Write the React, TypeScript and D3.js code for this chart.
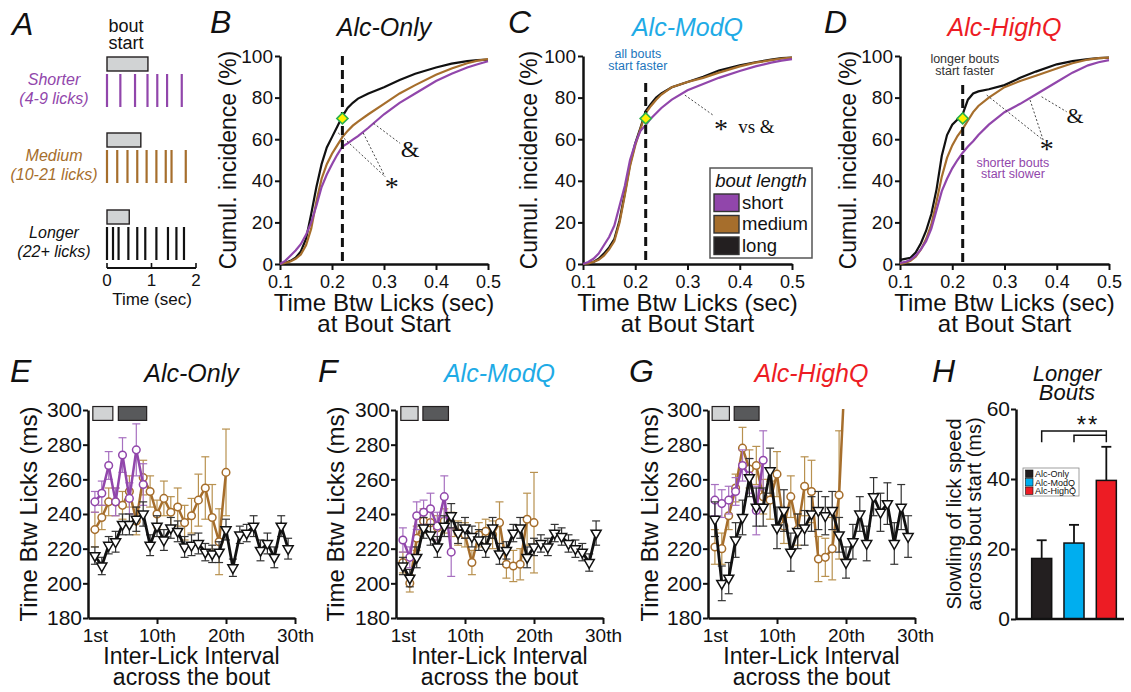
import { useEffect, useRef } from "react";
import * as d3 from "d3";

const FONT = "'Liberation Sans', Arial, Helvetica, sans-serif";
const SERIF = "'Liberation Serif', 'Times New Roman', serif";
const W = 1131;
const H = 692;

const PURPLE = "#9146ab";
const BROWN = "#a66e2c";
const BLACK = "#111111";
const CYAN = "#1fabe6";
const RED = "#ed1c24";

// ---- panel A: example bouts ----
const boutNames = ["Shorter", "Medium", "Longer"];
const boutRanges = ["(4-9 licks)", "(10-21 licks)", "(22+ licks)"];
const boutStartEnd = [0.92, 0.76, 0.5];
const licksShorter = [0, 0.3, 0.63, 0.91, 1.13, 1.35, 1.68];
const licksMedium = [0, 0.23, 0.46, 0.68, 0.89, 1.11, 1.32, 1.45, 1.77];
const licksLonger = [0, 0.135, 0.26, 0.48, 0.68, 0.86, 1.11, 1.37, 1.56, 1.73];
const timeTicks = [0, 1, 2];

// ---- panels B-D: cumulative incidence ----
const cdfX = [0.1, 0.11, 0.12, 0.13, 0.14, 0.15, 0.16, 0.17, 0.18, 0.19, 0.2, 0.21, 0.22, 0.23, 0.24, 0.25, 0.27, 0.3, 0.33, 0.36, 0.4, 0.43, 0.46, 0.48, 0.5];
const cdfTicksX = [0.1, 0.2, 0.3, 0.4, 0.5];
const cdfTicksY = [0, 20, 40, 60, 80, 100];

const cdfOnlyLong = [0, 0.5, 1.5, 3, 6, 12, 24, 37, 48, 56, 61, 66, 71, 75, 77.5, 79.5, 82, 85, 88.5, 91.5, 94.5, 96.3, 97.5, 98, 98.3];
const cdfOnlyMedium = [0, 0.5, 1.2, 2.5, 4.5, 9, 17, 30, 41, 48, 53, 57, 61, 64, 66.5, 68.5, 72, 77, 82, 86, 91, 94, 96.5, 97.8, 98.5];
const cdfOnlyShort = [0, 1.5, 4, 6.5, 9.5, 14, 20, 28, 37, 43, 48, 52.5, 56.5, 58, 59.8, 61.5, 65.5, 72, 77.5, 82, 88, 91.5, 94.5, 96, 97.5];

const cdfModLong = [0, 0.3, 1, 2.5, 5, 8, 12, 21, 34, 48, 58, 65.5, 73.5, 77, 80, 82, 85, 87.5, 90, 93, 95.5, 97, 98.3, 99, 99.2];
const cdfModMedium = [0, 0.3, 1, 2, 4, 7, 11, 20, 33, 47, 57, 65, 72.5, 76, 79, 81.5, 85, 87.5, 89.5, 92, 95, 96.8, 98, 98.8, 99.2];
const cdfModShort = [0, 1, 2.5, 5, 9, 13, 18.5, 28, 37.5, 50, 58, 64, 66.8, 70, 72.5, 75, 79, 83.5, 86.5, 89.5, 92.8, 95, 96.8, 97.8, 98.5];

const cdfHighLong = [2, 2.5, 3, 5.5, 10, 16, 24, 36, 52, 62, 67, 69.5, 72, 79, 82, 83, 84, 86, 89.5, 92.5, 96, 97.5, 98.5, 99, 99.2];
const cdfHighMedium = [0, 0.5, 1.5, 3.5, 7, 12, 19, 30, 42, 51, 57, 61.5, 65, 69, 73, 76, 80, 85, 88, 90.5, 94, 96.5, 98.3, 99, 99.2];
const cdfHighShort = [0.5, 1, 2, 4, 7, 11, 17, 26, 35, 41, 46, 50, 53.5, 56.5, 59, 62, 67, 73, 77, 81.5, 87.5, 92, 95.5, 97, 98];

const legendLabels = ["short", "medium", "long"];

// ---- panels E-G: inter-lick interval across the bout ----
const iliTicks = [1, 10, 20, 30];
const iliTickLabels = ["1st", "10th", "20th", "30th"];
const iliTicksY = [180, 200, 220, 240, 260, 280, 300];

const iliOnlyShort = [247, 252, 268, 247, 274, 249, 277, 257];
const iliOnlyShortErr = [6, 7, 8, 8, 10, 9, 15, 12];
const iliOnlyMedium = [231, 238, 247, 247, 245, 253, 236, 261, 253, 240, 249, 241, 244, 235, 239, 248, 255, 238, 224, 264];
const iliOnlyMediumErr = [10, 7, 8, 8, 8, 9, 8, 10, 9, 8, 10, 9, 11, 10, 10, 15, 18, 19, 19, 25];
const iliOnlyLong = [216, 210, 222, 224, 234, 234, 237, 240, 222, 233, 225, 232, 230, 221, 222, 223, 218, 217, 218, 231, 209, 228, 229, 233, 219, 223, 215, 233, 220];
const iliOnlyLongErr = [5, 5, 5, 6, 6, 6, 7, 7, 6, 6, 6, 6, 6, 6, 6, 6, 5, 5, 6, 6, 5, 5, 5, 6, 6, 6, 6, 6, 6];

const iliModShort = [225, 215, 239, 241, 243, 233, 250, 218];
const iliModShortErr = [7, 6, 8, 7, 9, 8, 12, 14];
const iliModMedium = [212, 200, 226, 236, 235, 232, 236, 234, 229, 228, 212, 228, 230, 228, 235, 211, 210, 211, 237, 235];
const iliModMediumErr = [6, 5, 7, 7, 7, 7, 7, 7, 7, 7, 7, 7, 7, 8, 12, 8, 9, 9, 15, 29];
const iliModLong = [210, 203, 215, 232, 228, 221, 233, 239, 229, 232, 227, 225, 221, 232, 217, 219, 229, 232, 215, 221, 223, 221, 229, 227, 223, 220, 218, 212, 229];
const iliModLongErr = [5, 5, 6, 6, 6, 6, 6, 7, 6, 6, 6, 6, 6, 6, 6, 5, 5, 6, 6, 5, 5, 5, 5, 5, 5, 5, 5, 5, 7];

const iliHighShort = [248, 246, 248, 253, 268, 262, 242, 271];
const iliHighShortErr = [9, 8, 8, 8, 9, 10, 14, 17];
const iliHighMedium = [221, 220, 239, 255, 278, 266, 268, 250, 248, 263, 233, 250, 231, 256, 253, 214, 215, 220, 251, 335];
const iliHighMediumErr = [10, 9, 8, 8, 12, 11, 11, 10, 11, 13, 10, 12, 9, 17, 18, 13, 11, 18, 37, 0];
const iliHighLong = [237, 200, 203, 225, 238, 261, 244, 244, 265, 232, 242, 218, 230, 232, 240, 242, 239, 242, 228, 212, 224, 240, 223, 250, 241, 246, 223, 244, 227];
const iliHighLongErr = [10, 10, 9, 10, 10, 11, 11, 11, 13, 12, 12, 11, 10, 10, 10, 11, 11, 11, 10, 9, 10, 10, 10, 11, 11, 12, 12, 13, 12];

// ---- panel H ----
const barGroups = ["Alc-Only", "Alc-ModQ", "Alc-HighQ"];
const barMeans = [17.3, 21.7, 39.6];
const barSems = [5.2, 5.2, 9.6];
const barColors = ["#231f20", "#00aeef", RED];
const barTicks = [0, 20, 40, 60];

function addText(g: any, x: number, y: number, s: string, o: any = {}) {
  const t = g
    .append("text")
    .attr("x", x)
    .attr("y", y)
    .attr("font-family", o.family || FONT)
    .attr("font-size", o.size || 18)
    .attr("fill", o.color || "#111")
    .attr("text-anchor", o.anchor || "middle")
    .text(s);
  if (o.italic) t.attr("font-style", "italic");
  if (o.rotate) t.attr("transform", `rotate(-90, ${x}, ${y})`);
  return t;
}

function styleAxis(ax: any, size: number) {
  ax.select(".domain").attr("stroke", "#111").attr("stroke-width", 2.5);
  ax.selectAll(".tick line").attr("stroke", "#111").attr("stroke-width", 2);
  ax.selectAll(".tick text").attr("font-family", FONT).attr("font-size", size).attr("fill", "#111");
}

function drawPanelA(svg: any) {
  const g = svg.append("g");
  const t = d3.scaleLinear().domain([0, 2]).range([107, 196]);
  addText(g, 12, 35, "A", { size: 32, italic: true, anchor: "start" });
  addText(g, 126, 32, "bout", { size: 18 });
  addText(g, 126, 49, "start", { size: 18 });
  const rows = [licksShorter, licksMedium, licksLonger];
  const colors = [PURPLE, BROWN, BLACK];
  const tops = [57, 133, 210];
  rows.forEach((licks, i) => {
    const top = tops[i];
    g.append("rect")
      .attr("x", t(0))
      .attr("y", top)
      .attr("width", t(boutStartEnd[i]) - t(0))
      .attr("height", 14)
      .attr("fill", "#d1d3d4")
      .attr("stroke", "#231f20")
      .attr("stroke-width", 1.4);
    g.selectAll(null)
      .data(licks)
      .enter()
      .append("line")
      .attr("x1", (d: number) => t(d))
      .attr("x2", (d: number) => t(d))
      .attr("y1", top + 17)
      .attr("y2", top + 50)
      .attr("stroke", colors[i])
      .attr("stroke-width", 2.2);
    addText(g, 54, top + 28, boutNames[i], { size: 16, italic: true, color: colors[i] });
    addText(g, 54, top + 47, boutRanges[i], { size: 16, italic: true, color: colors[i] });
  });
  g.append("line").attr("x1", t(0)).attr("x2", t(2)).attr("y1", 268).attr("y2", 268).attr("stroke", "#111").attr("stroke-width", 1.8);
  timeTicks.forEach((v) => {
    g.append("line").attr("x1", t(v)).attr("x2", t(v)).attr("y1", 268).attr("y2", 263).attr("stroke", "#111").attr("stroke-width", 1.6);
    addText(g, t(v), 286, String(v), { size: 17 });
  });
  addText(g, 152, 305, "Time (sec)", { size: 17 });
}

const cdfPanels = [
  {
    letter: "B", letterX: 210, left: 280, right: 488, title: "Alc-Only", titleColor: "#111", ylabelX: 236, dashTop: 100,
    series: [cdfOnlyLong, cdfOnlyMedium, cdfOnlyShort],
    dotted: [[0.28, 67.6, 0.331, 58], [0.212, 63, 0.302, 42], [0.26, 63, 0.302, 42]],
    marks: [{ s: "&", x: 0.35, y: 51.6, size: 24 }],
    stars: [{ x: 0.315, y: 38.8 }],
    notes: [] as any[],
  },
  {
    letter: "C", letterX: 508, left: 583, right: 792, title: "Alc-ModQ", titleColor: CYAN, ylabelX: 537, dashTop: 87,
    series: [cdfModLong, cdfModMedium, cdfModShort],
    dotted: [[0.295, 81.2, 0.351, 71.2]],
    marks: [{ s: "vs &", x: 0.397, y: 63.1, size: 19, anchor: "start" }],
    stars: [{ x: 0.364, y: 66.8 }],
    notes: [
      { s: "all bouts", x: 0.205, y: 98.9, color: "#1c75bc" },
      { s: "start faster", x: 0.205, y: 93.3, color: "#1c75bc" },
    ],
    legend: true,
  },
  {
    letter: "D", letterX: 824, left: 900, right: 1109, title: "Alc-HighQ", titleColor: RED, ylabelX: 856, dashTop: 86,
    series: [cdfHighLong, cdfHighMedium, cdfHighShort],
    dotted: [[0.371, 80.4, 0.419, 73.2], [0.266, 81.2, 0.374, 59.6], [0.349, 78.8, 0.374, 59.6]],
    marks: [{ s: "&", x: 0.435, y: 67.9, size: 22 }],
    stars: [{ x: 0.381, y: 57.2 }],
    notes: [
      { s: "longer bouts", x: 0.224, y: 96.5, color: "#333" },
      { s: "start faster", x: 0.224, y: 90.9, color: "#333" },
      { s: "shorter bouts", x: 0.316, y: 46.8, color: PURPLE },
      { s: "start slower", x: 0.316, y: 41.2, color: PURPLE },
    ],
  },
];

function drawCdf(svg: any, p: any) {
  const g = svg.append("g");
  const x = d3.scaleLinear().domain([0.1, 0.5]).range([p.left, p.right]);
  const y = d3.scaleLinear().domain([0, 100]).range([264, 56]);
  const cx = (p.left + p.right) / 2;

  addText(g, p.letterX, 33, p.letter, { size: 32, italic: true, anchor: "start" });
  addText(g, cx, 36, p.title, { size: 25, italic: true, color: p.titleColor });

  const ax = g
    .append("g")
    .attr("transform", "translate(0,264)")
    .call(d3.axisBottom(x).tickValues(cdfTicksX).tickFormat(d3.format(".1f")).tickSize(6).tickSizeOuter(0).tickPadding(5));
  styleAxis(ax, 18);
  const ay = g
    .append("g")
    .attr("transform", `translate(${p.left},0)`)
    .call(d3.axisLeft(y).tickValues(cdfTicksY).tickSize(5).tickSizeOuter(0).tickPadding(2));
  styleAxis(ay, 19);

  addText(g, cx, 311, "Time Btw Licks (sec)", { size: 24 });
  addText(g, cx, 332, "at Bout Start", { size: 24 });
  addText(g, p.ylabelX, 160, "Cumul. incidence (%)", { size: 23, rotate: true });

  const colors = [BLACK, BROWN, PURPLE];
  const line = d3
    .line<number>()
    .x((_d, i) => x(cdfX[i]))
    .y((d) => y(d));
  p.series.forEach((vals: number[], i: number) => {
    g.append("path").datum(vals).attr("fill", "none").attr("stroke", colors[i]).attr("stroke-width", 2.2).attr("d", line);
  });

  g.append("line")
    .attr("x1", x(0.22))
    .attr("x2", x(0.22))
    .attr("y1", y(p.dashTop))
    .attr("y2", y(0))
    .attr("stroke", "#111")
    .attr("stroke-width", 3)
    .attr("stroke-dasharray", "9,5");

  g.append("path")
    .attr("d", d3.symbol().type(d3.symbolSquare).size(62)())
    .attr("transform", `translate(${x(0.22)},${y(70)}) rotate(45)`)
    .attr("fill", "#fff200")
    .attr("stroke", "#2bb24c")
    .attr("stroke-width", 1.6);

  p.dotted.forEach((l: number[]) => {
    g.append("line")
      .attr("x1", x(l[0]))
      .attr("y1", y(l[1]))
      .attr("x2", x(l[2]))
      .attr("y2", y(l[3]))
      .attr("stroke", "#333")
      .attr("stroke-width", 0.9)
      .attr("stroke-dasharray", "2,2");
  });
  p.marks.forEach((m: any) => {
    addText(g, x(m.x), y(m.y), m.s, { size: m.size, family: SERIF, anchor: m.anchor || "middle" });
  });
  p.stars.forEach((s: any) => {
    addText(g, x(s.x), y(s.y) + 0.47 * 28, "*", { size: 28, family: SERIF });
  });
  p.notes.forEach((n: any) => {
    addText(g, x(n.x), y(n.y), n.s, { size: 12.5, color: n.color });
  });

  if (p.legend) {
    const lg = g.append("g");
    lg.append("rect").attr("x", 710).attr("y", 168).attr("width", 102).attr("height", 90).attr("fill", "#fff").attr("stroke", "#555").attr("stroke-width", 1.5);
    addText(lg, 761, 187, "bout length", { size: 18.5, italic: true });
    const legColors = [PURPLE, BROWN, "#231f20"];
    legendLabels.forEach((lab, i) => {
      const top = 194 + i * 21.5;
      lg.append("rect").attr("x", 714).attr("y", top).attr("width", 25).attr("height", 17.5).attr("fill", legColors[i]).attr("stroke", "#333").attr("stroke-width", 1.4);
      addText(lg, 742, top + 14.5, lab, { size: 18.5, anchor: "start" });
    });
  }
}

const iliPanels = [
  {
    letter: "E", letterX: 10, left: 88, title: "Alc-Only", titleColor: "#111", ylabelX: 37,
    boxes: [[0.7, 3.6], [4.4, 8.5]],
    short: iliOnlyShort, shortErr: iliOnlyShortErr, medium: iliOnlyMedium, mediumErr: iliOnlyMediumErr, long: iliOnlyLong, longErr: iliOnlyLongErr,
  },
  {
    letter: "F", letterX: 318, left: 396, title: "Alc-ModQ", titleColor: CYAN, ylabelX: 344,
    boxes: [[0.7, 3.2], [3.9, 7.6]],
    short: iliModShort, shortErr: iliModShortErr, medium: iliModMedium, mediumErr: iliModMediumErr, long: iliModLong, longErr: iliModLongErr,
  },
  {
    letter: "G", letterX: 629, left: 708, title: "Alc-HighQ", titleColor: RED, ylabelX: 658,
    boxes: [[0.6, 3.1], [3.8, 7.4]],
    short: iliHighShort, shortErr: iliHighShortErr, medium: iliHighMedium, mediumErr: iliHighMediumErr, long: iliHighLong, longErr: iliHighLongErr,
  },
];

function drawIli(svg: any, p: any, idx: number) {
  const g = svg.append("g");
  const x = d3.scaleLinear().domain([0, 30]).range([p.left, p.left + 207]);
  const y = d3.scaleLinear().domain([180, 300]).range([618, 410]);
  const cx = p.left + 103.5;

  addText(g, p.letterX, 382, p.letter, { size: 32, italic: true, anchor: "start" });
  addText(g, cx, 382, p.title, { size: 25, italic: true, color: p.titleColor });

  const clipId = `ili-clip-${idx}`;
  svg
    .append("clipPath")
    .attr("id", clipId)
    .append("rect")
    .attr("x", p.left)
    .attr("y", y(300) - 1)
    .attr("width", 215)
    .attr("height", y(180) - y(300) + 1);

  p.boxes.forEach((b: number[], i: number) => {
    g.append("rect")
      .attr("x", x(b[0]))
      .attr("y", y(302))
      .attr("width", x(b[1]) - x(b[0]))
      .attr("height", y(294) - y(302))
      .attr("fill", i === 0 ? "#d1d3d4" : "#58595b")
      .attr("stroke", "#231f20")
      .attr("stroke-width", 1.2);
  });

  const ax = g
    .append("g")
    .attr("transform", "translate(0,618)")
    .call(
      d3
        .axisBottom(x)
        .tickValues(iliTicks)
        .tickFormat((_d, i) => iliTickLabels[i])
        .tickSize(6)
        .tickSizeOuter(0)
        .tickPadding(5)
    );
  styleAxis(ax, 19);
  ax.selectAll(".tick").filter((d: number) => d === 1).select("line").remove();
  const ay = g
    .append("g")
    .attr("transform", `translate(${p.left},0)`)
    .call(d3.axisLeft(y).tickValues(iliTicksY).tickSize(5).tickSizeOuter(0).tickPadding(1));
  styleAxis(ay, 21);

  addText(g, cx, 664, "Inter-Lick Interval", { size: 23 });
  addText(g, cx, 685, "across the bout", { size: 23 });
  addText(g, p.ylabelX, 514, "Time Btw Licks (ms)", { size: 24, rotate: true });

  const data = g.append("g").attr("clip-path", `url(#${clipId})`);
  const series = [
    { vals: p.medium, errs: p.mediumErr, color: BROWN, errColor: "#b8914f", marker: "circle" },
    { vals: p.short, errs: p.shortErr, color: PURPLE, errColor: "#a770c0", marker: "circle" },
    { vals: p.long, errs: p.longErr, color: BLACK, errColor: "#333", marker: "tri" },
  ];
  series.forEach((s) => {
    const pts = s.vals.map((v: number, i: number) => ({ n: i + 1, v, e: s.errs[i] }));
    const eb = data.append("g").attr("stroke", s.errColor).attr("stroke-width", 1.2);
    pts.forEach((d: any) => {
      if (!d.e) return;
      eb.append("line").attr("x1", x(d.n)).attr("x2", x(d.n)).attr("y1", y(d.v - d.e)).attr("y2", y(d.v + d.e));
      [d.v - d.e, d.v + d.e].forEach((c) => {
        eb.append("line").attr("x1", x(d.n) - 4).attr("x2", x(d.n) + 4).attr("y1", y(c)).attr("y2", y(c));
      });
    });
    const line = d3
      .line<any>()
      .x((d) => x(d.n))
      .y((d) => y(d.v));
    data.append("path").datum(pts).attr("fill", "none").attr("stroke", s.color).attr("stroke-width", s.marker === "tri" ? 2.8 : 2.5).attr("d", line);
    if (s.marker === "circle") {
      data
        .selectAll(null)
        .data(pts)
        .enter()
        .append("circle")
        .attr("cx", (d: any) => x(d.n))
        .attr("cy", (d: any) => y(d.v))
        .attr("r", 3.8)
        .attr("fill", "#fff")
        .attr("stroke", s.color)
        .attr("stroke-width", 1.5);
    } else {
      const tri = d3.symbol().type(d3.symbolTriangle).size(44)();
      data
        .selectAll(null)
        .data(pts)
        .enter()
        .append("path")
        .attr("d", tri)
        .attr("transform", (d: any) => `translate(${x(d.n)},${y(d.v)}) rotate(180)`)
        .attr("fill", "#fff")
        .attr("stroke", "#111")
        .attr("stroke-width", 1.5);
    }
  });
}

function drawBars(svg: any) {
  const g = svg.append("g");
  const x = d3.scaleBand().domain(barGroups).range([1026, 1122]).paddingInner(0.38).paddingOuter(0.175);
  const y = d3.scaleLinear().domain([0, 60]).range([619, 409]);
  const bw = x.bandwidth();
  const c = (i: number) => (x(barGroups[i]) as number) + bw / 2;

  addText(g, 932, 382, "H", { size: 32, italic: true, anchor: "start" });
  addText(g, 1067, 381, "Longer", { size: 22, italic: true });
  addText(g, 1067, 400, "Bouts", { size: 22, italic: true });
  addText(g, 961, 514, "Slowling of lick speed", { size: 20, rotate: true });
  addText(g, 981, 514, "across bout start (ms)", { size: 20, rotate: true });

  barGroups.forEach((grp, i) => {
    const x0 = x(grp) as number;
    g.append("line")
      .attr("x1", c(i))
      .attr("x2", c(i))
      .attr("y1", y(barMeans[i]))
      .attr("y2", y(barMeans[i] + barSems[i]))
      .attr("stroke", "#111")
      .attr("stroke-width", 1.8);
    g.append("line")
      .attr("x1", c(i) - 5)
      .attr("x2", c(i) + 5)
      .attr("y1", y(barMeans[i] + barSems[i]))
      .attr("y2", y(barMeans[i] + barSems[i]))
      .attr("stroke", "#111")
      .attr("stroke-width", 1.8);
    g.append("rect")
      .attr("x", x0)
      .attr("y", y(barMeans[i]))
      .attr("width", bw)
      .attr("height", y(0) - y(barMeans[i]))
      .attr("fill", barColors[i])
      .attr("stroke", "#111")
      .attr("stroke-width", 1.5);
  });

  const ay = g
    .append("g")
    .attr("transform", "translate(1016,0)")
    .call(d3.axisLeft(y).tickValues(barTicks).tickSize(5).tickSizeOuter(0).tickPadding(1));
  styleAxis(ay, 21);
  g.append("line").attr("x1", 1016).attr("x2", 1124).attr("y1", 619).attr("y2", 619).attr("stroke", "#111").attr("stroke-width", 2.5);

  const br = g.append("g").attr("fill", "none").attr("stroke", "#111").attr("stroke-width", 1.5);
  br.append("path").attr("d", `M${c(0)},${y(50.5)}V${y(53.7)}H${c(2)}V${y(50.5)}`);
  br.append("path").attr("d", `M${c(1)},${y(50.5)}V${y(52.5)}H${c(2)}`);
  addText(g, 1088, y(57.1) + 0.575 * 24, "**", { size: 24 }).attr("letter-spacing", 2);

  const lg = g.append("g");
  lg.append("rect").attr("x", 1023).attr("y", 468).attr("width", 56).attr("height", 28).attr("fill", "#fff").attr("stroke", "#888").attr("stroke-width", 0.8);
  barGroups.forEach((grp, i) => {
    const top = 470 + i * 8.5;
    lg.append("rect").attr("x", 1025.5).attr("y", top).attr("width", 7.5).attr("height", 7.5).attr("fill", barColors[i]).attr("stroke", "#111").attr("stroke-width", 0.6);
    addText(lg, 1035, top + 7, grp, { size: 9, anchor: "start" });
  });
}

export default function App() {
  const ref = useRef<SVGSVGElement>(null);

  useEffect(() => {
    const svg = d3.select(ref.current);
    svg.selectAll("*").remove();
    svg.append("rect").attr("width", W).attr("height", H).attr("fill", "#fff");
    drawPanelA(svg);
    cdfPanels.forEach((p) => drawCdf(svg, p));
    iliPanels.forEach((p, i) => drawIli(svg, p, i));
    drawBars(svg);
  }, []);

  return <svg ref={ref} width={W} height={H} style={{ position: "absolute", left: 0, top: 0, background: "#fff" }} />;
}
